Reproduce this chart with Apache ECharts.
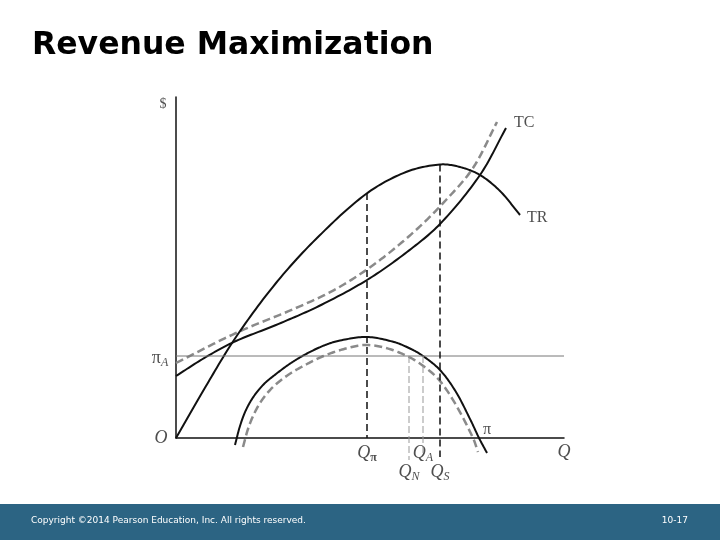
<!DOCTYPE html>
<html>
<head>
<meta charset="utf-8">
<title>Revenue Maximization</title>
<script src="https://cdn.jsdelivr.net/npm/echarts@6/dist/echarts.min.js"></script>
<style>
  html, body { margin: 0; padding: 0; background: #fff; }
  .main { width: 720px; height: 540px; }
</style>
</head>
<body>
<div class="main"></div>
<script>
// 数据（读图：横轴 Q 从原点 O 起算，纵轴 $）
var trQ = [0, 30, 60, 100, 140, 190, 230, 264, 284, 304, 324, 344];
var trV = [0, 52, 101, 155, 199, 244, 266, 273.5, 271, 263, 247, 223];

var tcQ = [0, 30, 60, 100, 143, 191, 231, 264, 304, 330];
var tcV = [62, 81, 97, 113, 132, 158, 186, 214, 263, 310];

var tcDashQ = [0, 60, 120, 160, 200, 240, 270, 297, 321];
var tcDashV = [75, 105, 130, 149, 175, 208, 238, 270, 316];

var piQ = [59, 64, 70, 78, 88, 100, 115, 131, 148, 164, 191, 218, 235, 247, 264, 280, 295, 303, 311];
var piV = [-7, 12, 28, 42, 54, 64, 75, 84.5, 92.5, 97.5, 101, 96, 89, 82, 68, 46, 17, 0, -15];

var piDashQ = [67, 72, 78, 86, 97, 112, 131, 150, 170, 189, 210, 233, 250, 264, 280, 297, 302];
var piDashV = [-9, 9, 24, 38, 51, 63, 74, 83, 89.5, 93, 90, 81, 70, 57, 33, 0, -14];

var piA = 82;
// Qπ, QN, QA, QS 的竖线
var qMarks = [191, 233, 247, 264];
var qTop = [245, 82, 82, 273.5];
var qBottom = [0, -22, -15, -19];

var xMax = 388;
var yMax = 341;

(function() {
  // 1. 实例化对象
  var myChart = echarts.init(document.querySelector(".main"));

  function pairs(xs, ys) {
    return xs.map(function(x, i) { return [x, ys[i]]; });
  }

  function dist(a, b) {
    return Math.sqrt((a[0] - b[0]) * (a[0] - b[0]) + (a[1] - b[1]) * (a[1] - b[1]));
  }

  // 像素点之间画平滑的曲线（Catmull-Rom 转 bezier 后采样）
  function spline(pts) {
    var out = [pts[0]];
    var n = pts.length;
    for (var i = 0; i < n - 1; i++) {
      var p0 = pts[Math.max(i - 1, 0)], p1 = pts[i], p2 = pts[i + 1], p3 = pts[Math.min(i + 2, n - 1)];
      var d01 = dist(p0, p1), d12 = dist(p1, p2), d23 = dist(p2, p3);
      var k1 = d12 / (3 * ((d01 + d12) || 1));
      var k2 = d12 / (3 * ((d12 + d23) || 1));
      var c1 = [p1[0] + (p2[0] - p0[0]) * k1, p1[1] + (p2[1] - p0[1]) * k1];
      var c2 = [p2[0] - (p3[0] - p1[0]) * k2, p2[1] - (p3[1] - p1[1]) * k2];
      for (var s = 1; s <= 16; s++) {
        var t = s / 16, u = 1 - t;
        out.push([
          u * u * u * p1[0] + 3 * u * u * t * c1[0] + 3 * u * t * t * c2[0] + t * t * t * p2[0],
          u * u * u * p1[1] + 3 * u * u * t * c1[1] + 3 * u * t * t * c2[1] + t * t * t * p2[1]
        ]);
      }
    }
    return out;
  }

  function curve(xs, ys, color, width, dash) {
    return {
      type: "custom",
      coordinateSystem: "cartesian2d",
      silent: true,
      clip: false,
      data: pairs(xs, ys),
      renderItem: function(params, api) {
        if (params.dataIndex !== 0) return null;
        var pts = xs.map(function(x, i) { return api.coord([x, ys[i]]); });
        return {
          type: "polyline",
          shape: { points: spline(pts) },
          style: { stroke: color, lineWidth: width, lineDash: dash, fill: null }
        };
      }
    };
  }

  function straight(xs, ys, color, width, type) {
    return {
      type: "line",
      data: pairs(xs, ys),
      symbol: "none",
      clip: false,
      silent: true,
      lineStyle: { color: color, width: width, type: type }
    };
  }

  function vline(i, color, width, dash) {
    return straight([qMarks[i], qMarks[i]], [qTop[i], qBottom[i]], color, width, dash);
  }

  // 文字标注（用 scatter 挂在坐标上）
  var serif = "Liberation Serif";
  var rich = {
    q: { fontFamily: serif, fontStyle: "italic", fontSize: 18, color: "#222" },
    s: { fontFamily: serif, fontStyle: "italic", fontSize: 12, color: "#222", padding: [10, 0, 0, 0] },
    p: { fontFamily: serif, fontWeight: "bold", fontSize: 12, color: "#222", padding: [10, 0, 0, 0] },
    g: { fontFamily: serif, fontSize: 18, color: "#222" },
    t: { fontFamily: serif, fontSize: 16, color: "#222" },
    d: { fontFamily: serif, fontSize: 14, color: "#222" }
  };
  var labels = [
    [-13, 334, "{d|$}", "center"],
    [-15, 0, "{q|O}", "center"],
    [-16, 80, "{g|π}{s|A}", "center"],
    [338, 315, "{t|TC}", "left"],
    [351, 220, "{t|TR}", "left"],
    [311, 8, "{t|π}", "center"],
    [191, -15, "{q|Q}{p|π}", "center"],
    [247, -15, "{q|Q}{s|A}", "center"],
    [233, -34, "{q|Q}{s|N}", "center"],
    [264, -34, "{q|Q}{s|S}", "center"],
    [388, -14, "{q|Q}", "center"]
  ];

  // 2. 指定配置项和数据
  var option = {
    animation: false,
    grid: { left: 176, top: 97, width: xMax, height: yMax },
    xAxis: {
      type: "value", min: 0, max: xMax,
      axisLine: { show: true, lineStyle: { color: "#111", width: 1.5 } },
      axisTick: { show: false }, axisLabel: { show: false }, splitLine: { show: false }
    },
    yAxis: {
      type: "value", min: 0, max: yMax,
      axisLine: { show: true, lineStyle: { color: "#111", width: 1.5 } },
      axisTick: { show: false }, axisLabel: { show: false }, splitLine: { show: false }
    },
    graphic: [
      {
        type: "text", left: 32, top: 30,
        style: { text: "Revenue Maximization", fontFamily: "DejaVu Sans", fontWeight: "bold", fontSize: 31.5, fill: "#000" }
      },
      { type: "rect", left: 0, top: 504, shape: { width: 720, height: 36 }, style: { fill: "#2c6483" } },
      {
        type: "text", left: 31, top: 516,
        style: { text: "Copyright ©2014 Pearson Education, Inc. All rights reserved.", fontFamily: "DejaVu Sans", fontSize: 9, fill: "#fff" }
      },
      {
        type: "text", right: 32, top: 516,
        style: { text: "10-17", fontFamily: "DejaVu Sans", fontSize: 9, fill: "#fff" }
      }
    ],
    series: [
      // πA 水平线
      straight([0, xMax], [piA, piA], "#777", 1, "solid"),
      // 竖线
      vline(0, "#111", 1.5, [7, 4]),
      vline(1, "#999", 1, [7, 3]),
      vline(2, "#999", 1, [7, 3]),
      vline(3, "#111", 1.5, [7, 4]),
      // 虚线 TC 和 π
      curve(tcDashQ, tcDashV, "#8a8a8a", 2.5, [8, 4]),
      curve(piDashQ, piDashV, "#8a8a8a", 2.5, [8, 4]),
      // 实线 TR, TC, π
      curve(trQ, trV, "#111", 2, null),
      curve(tcQ, tcV, "#111", 2, null),
      curve(piQ, piV, "#111", 2, null),
      {
        type: "scatter",
        symbolSize: 0,
        silent: true,
        clip: false,
        data: labels.map(function(l) {
          return {
            value: [l[0], l[1]],
            label: { show: true, position: "inside", align: l[3], formatter: l[2], rich: rich }
          };
        })
      }
    ]
  };
  // 3. 配置项和数据给我们的实例化对象
  myChart.setOption(option);
  // 4. 当我们浏览器缩放的时候，图表也等比例缩放
  window.addEventListener("resize", function() {
    myChart.resize();
  });
})();
</script>
</body>
</html>
